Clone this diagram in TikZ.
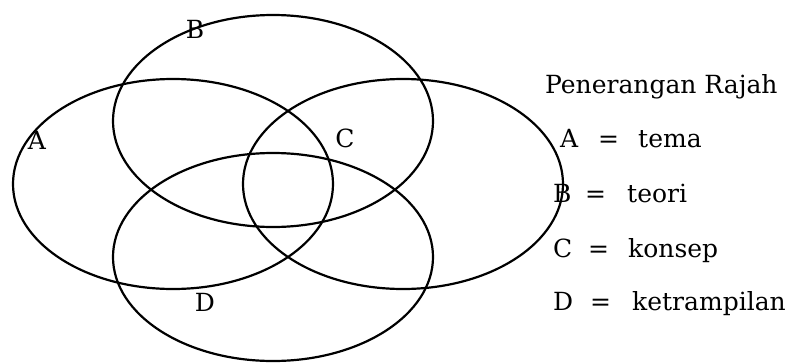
\documentclass[tikz,border=0pt]{standalone}
\usepackage{fontspec}
\setmainfont{DejaVu Serif}
\begin{document}
\begin{tikzpicture}[x=1pt,y=-1pt,
  ring/.style={line width=2.2pt},
  lbl/.style={font=\fontsize{25}{29}\selectfont, inner sep=0pt},
  leg/.style={font=\fontsize{25}{29}\selectfont, inner sep=0pt, anchor=base west}]
\path[use as bounding box] (0,0) rectangle (793,362);
% ellipses
\draw[ring] (173,184) ellipse [x radius=160, y radius=105];
\draw[ring] (273,121) ellipse [x radius=160, y radius=106];
\draw[ring] (403,184) ellipse [x radius=160, y radius=105];
\draw[ring] (273,257) ellipse [x radius=160, y radius=104];
% letters
\node[lbl] (la) at (37,140) {A};
\node[lbl] (lb) at (195,29) {B};
\node[lbl] (lc) at (345,138) {C};
\node[lbl] (ld) at (205,302) {D};
% legend
\node[leg] (title) at (545,93) {Penerangan Rajah};
\node[leg] (a1) at (560,147) {A};
\node[leg] (a2) at (598,147) {=};
\node[leg] (a3) at (638,147) {tema};
\node[leg] (b1) at (553,202) {B};
\node[leg] (b2) at (585,202) {=};
\node[leg] (b3) at (627,202) {teori};
\node[leg] (c1) at (553,257) {C};
\node[leg] (c2) at (588,257) {=};
\node[leg] (c3) at (628,257) {konsep};
\node[leg] (d1) at (553,310) {D};
\node[leg] (d2) at (590,310) {=};
\node[leg] (d3) at (632,310) {ketrampilan};
\end{tikzpicture}
\end{document}
